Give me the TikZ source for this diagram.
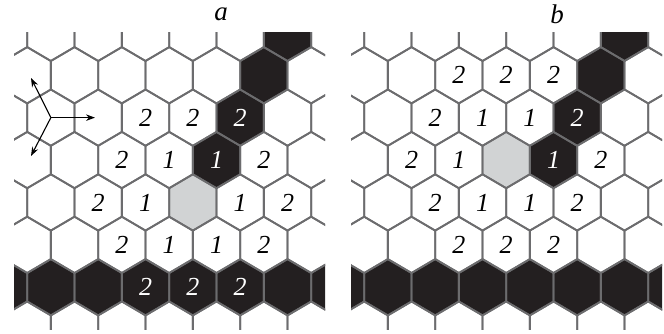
\documentclass[tikz,border=0pt]{standalone}
\usepackage{fontspec}
\setmainfont{Liberation Serif}
\usetikzlibrary{arrows.meta}
\definecolor{gridgray}{RGB}{108,108,110}
\definecolor{cellblack}{RGB}{35,31,32}
\definecolor{cellgray}{RGB}{209,211,212}
\newcommand\hexpath[2]{({27.2+47.33*(#2)-23.67*(1-mod(#1,2))},{32.85+42.4*(#1)}) ++(0,-28.15) -- ++(23.67,13.9) -- ++(0,28.5) -- ++(-23.67,13.9) -- ++(-23.67,-13.9) -- ++(0,-28.5) -- cycle}
\newcommand\hc[2]{({27.2+47.33*(#2)-23.67*(1-mod(#1,2))},{32.85+42.4*(#1)})}
\begin{document}
\begin{tikzpicture}[x=1pt,y=-1pt,
  grid/.style={draw=gridgray,line width=1.8pt,line join=round},
  num/.style={font=\fontsize{26}{26}\selectfont\itshape,inner sep=0pt},
  wnum/.style={num,text=white},
  ttl/.style={font=\fontsize{27}{27}\selectfont\itshape,inner sep=0pt},
  arr/.style={draw=black,line width=1.1pt,-{Stealth[length=9pt,width=6.5pt]}}]
\useasboundingbox (0,0) rectangle (664,334);
% ---------- panel a ----------
\begin{scope}
  \begin{scope}
    \clip (14,32.85) rectangle (325,329.65);
    \foreach \r/\k in {0/6,1/5,2/5,3/4,6/0,6/1,6/2,6/3,6/4,6/5,6/6,6/7}
      \fill[cellblack] \hexpath{\r}{\k};
    \fill[cellgray] \hexpath{4}{4};
    \foreach \r in {0,...,7}
      \foreach \k in {0,...,7}
        \draw[grid] \hexpath{\r}{\k};
  \end{scope}
  \foreach \r/\k/\t in {2/3/2,2/4/2,3/2/2,3/3/1,3/5/2,4/2/2,4/3/1,4/5/1,4/6/2,5/2/2,5/3/1,5/4/1,5/5/2}
    \path \hc{\r}{\k} node[num] (a\r\k) {\t};
  \foreach \r/\k/\t in {2/5/2,3/4/1,6/3/2,6/4/2,6/5/2}
    \path \hc{\r}{\k} node[wnum] (a\r\k) {\t};
  \node[ttl] (ta) at (221,14) {a};
  \coordinate (o) at (50.86,117.65);
  \coordinate (e1) at (95,117.65);
  \coordinate (e2) at (31,78);
  \coordinate (e3) at (31,156);
  \draw[arr] (o) -- (e1);
  \draw[arr] (o) -- (e2);
  \draw[arr] (o) -- (e3);
\end{scope}
% ---------- panel b ----------
\begin{scope}[shift={(337,0)}]
  \begin{scope}
    \clip (14,32.85) rectangle (325,329.65);
    \foreach \r/\k in {0/6,1/5,2/5,3/4,6/0,6/1,6/2,6/3,6/4,6/5,6/6,6/7}
      \fill[cellblack] \hexpath{\r}{\k};
    \fill[cellgray] \hexpath{3}{3};
    \foreach \r in {0,...,7}
      \foreach \k in {0,...,7}
        \draw[grid] \hexpath{\r}{\k};
  \end{scope}
  \foreach \r/\k/\t in {1/2/2,1/3/2,1/4/2,2/2/2,2/3/1,2/4/1,3/1/2,3/2/1,3/5/2,4/2/2,4/3/1,4/4/1,4/5/2,5/2/2,5/3/2,5/4/2}
    \path \hc{\r}{\k} node[num] (b\r\k) {\t};
  \foreach \r/\k/\t in {2/5/2,3/4/1}
    \path \hc{\r}{\k} node[wnum] (b\r\k) {\t};
  \node[ttl] (tb) at (220,14) {b};
\end{scope}
\end{tikzpicture}
\end{document}
